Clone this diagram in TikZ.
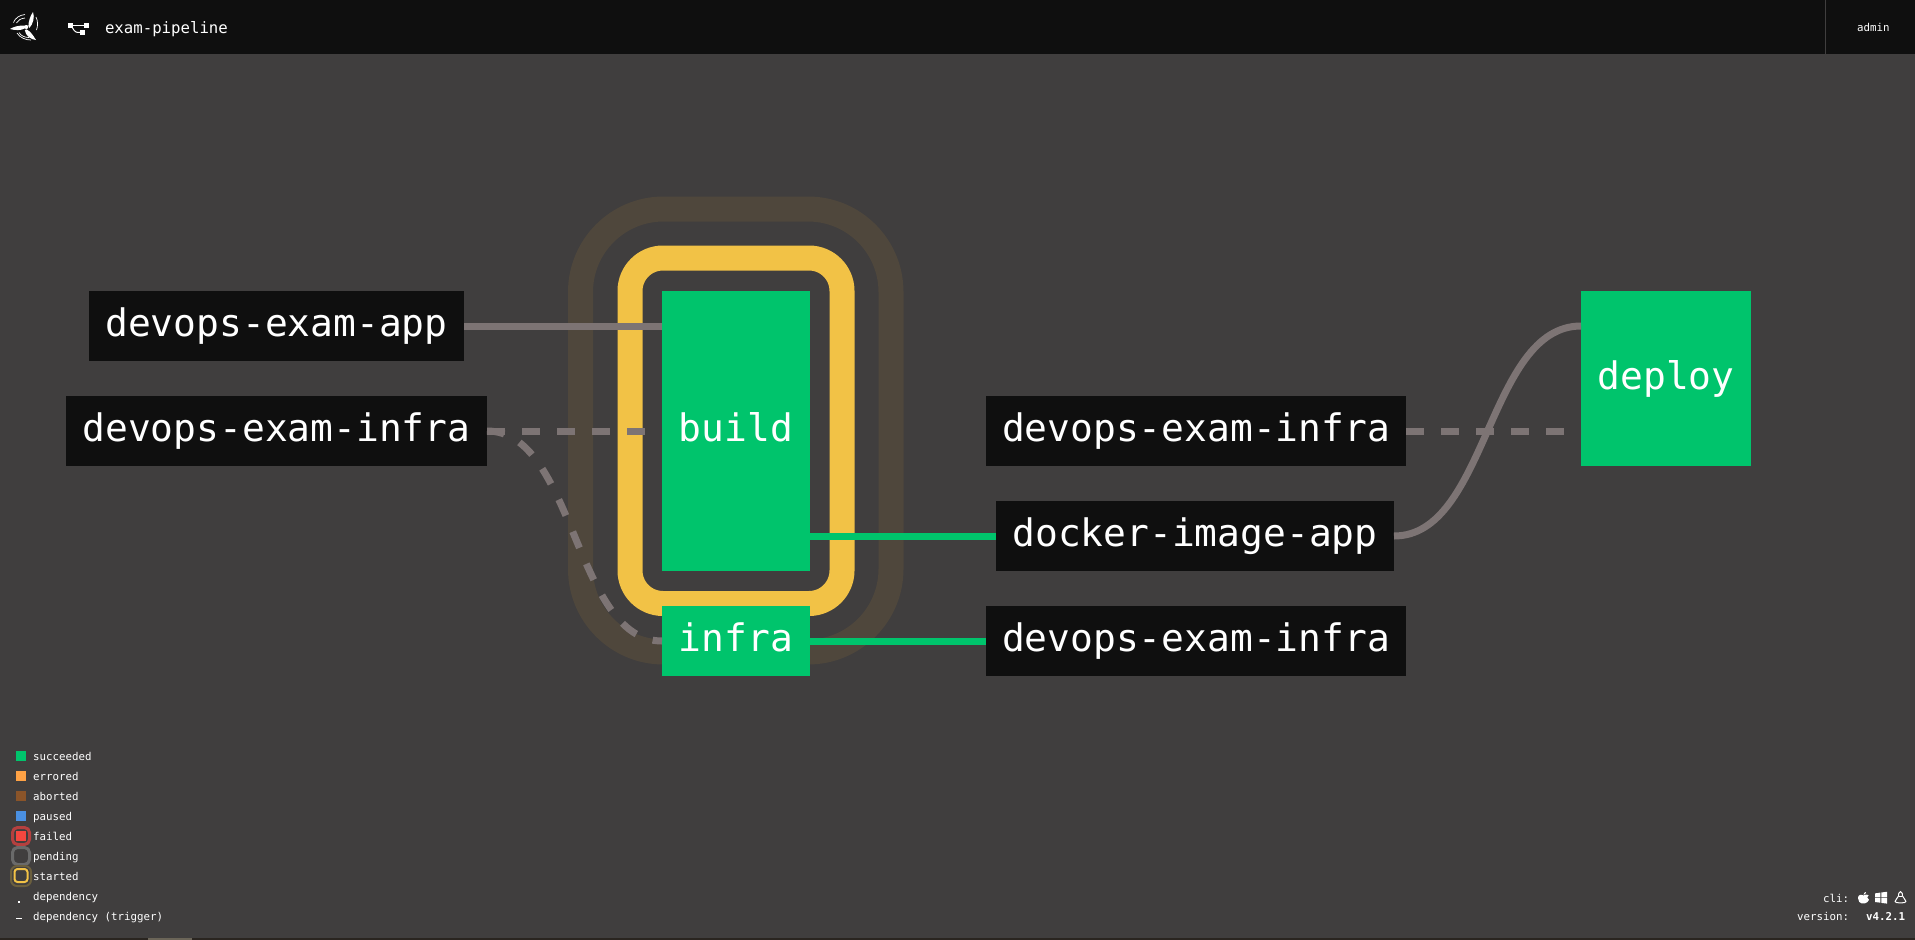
\documentclass[tikz,border=0pt]{standalone}
\usepackage{fontspec}
\setmonofont{DejaVu Sans Mono}
\definecolor{bgc}{HTML}{403E3E}
\definecolor{barc}{HTML}{0F0F0F}
\definecolor{greenc}{HTML}{00C46C}
\definecolor{yellowc}{HTML}{F2C246}
\definecolor{haloc}{HTML}{4F473C}
\definecolor{edgec}{HTML}{7D7474}
\definecolor{stripc}{HTML}{2A2520}
\definecolor{patchc}{HTML}{6B6558}
\definecolor{c1}{HTML}{FFA245}
\definecolor{c2}{HTML}{8A5429}
\definecolor{c3}{HTML}{4A90E2}
\definecolor{c4}{HTML}{F5473F}
\definecolor{c5}{HTML}{B5403F}
\definecolor{c6}{HTML}{6A6A6A}
\definecolor{c7}{HTML}{6B5F3E}
\tikzset{
  res/.style={fill=barc,text=white,inner sep=0pt,outer sep=0pt,minimum height=70pt,font=\fontsize{37.9pt}{40pt}\selectfont\ttfamily,text height=28pt,text depth=6.4pt,anchor=center},
  jobbox/.style={res,fill=greenc},
  edgeline/.style={draw=edgec,line width=7pt},
  edgedash/.style={edgeline,dash pattern=on 17.5pt off 17.5pt},
  greenline/.style={draw=greenc,line width=7pt},
  small/.style={text=white,inner sep=0pt,outer sep=0pt,anchor=base west,font=\fontsize{10.8pt}{12pt}\selectfont\ttfamily}
}
\begin{document}
\begin{tikzpicture}[x=1pt,y=-1pt]
\useasboundingbox (0,0) rectangle (1915,940);
\fill[bgc] (0,0) rectangle (1915,940);
% bars
\fill[barc] (0,0) rectangle (1915,53.5);
\draw[color=bgc,line width=1pt] (1825.5,0) -- (1825.5,53.5);
\fill[stripc] (0,937.5) rectangle (1915,940);
\fill[patchc] (148,937.5) rectangle (192,940);
% logo
\fill[white] (26.3,27) circle (2);
\fill[white] (25.5,25.6) .. controls (19,25) and (13,27) .. (10,29) .. controls (15,30.5) and (21,30.5) .. (24.6,28.6) -- cycle;
\fill[white] (28.4,26) .. controls (28.5,22) and (30,16) .. (33,12) .. controls (35,17) and (33,24) .. (29.4,28) -- cycle;
\fill[white] (26.5,29.4) .. controls (30,31) and (33,35) .. (36,40) .. controls (31,39.5) and (25.5,36) .. (24.8,30) -- cycle;
\draw[white,line width=.7pt] (13.5,22.5) .. controls (15,18) and (20,15) .. (25,14.5);
\draw[white,line width=.7pt] (16.5,23) .. controls (18,20) and (21,18.5) .. (25,18);
\draw[white,line width=.7pt] (36,17) .. controls (38,21) and (38,26) .. (36.5,30);
\draw[white,line width=.7pt] (17,33) .. controls (20,38) and (26,40) .. (31,40);
\draw[white,line width=.7pt] (19,32.5) .. controls (21,36) and (25,37.5) .. (29,37.5);
% pipeline icon
\fill[white] (68.2,22.5) rectangle (73.2,27.5);
\fill[white] (83.5,22.5) rectangle (88.5,27.5);
\fill[white] (79.8,30) rectangle (84.8,35);
\draw[white,line width=1pt] (73,25) -- (84,25);
\draw[white,line width=1pt] (72,27) .. controls (75,32.5) and (76,32.5) .. (80,32.5);
\node[small,font=\fontsize{15.7pt}{18pt}\selectfont\ttfamily] (title) at (105,33.2) {exam-pipeline};
\node[small] (user) at (1857,31.3) {admin};
% halo and ring
\draw[haloc,line width=25pt,rounded corners=83pt] (580.5,209) rectangle (891,652);
\draw[yellowc,line width=25pt,rounded corners=33pt] (630,258) rectangle (842,603.5);
% nodes
\node[res,minimum width=375pt] (app) at (276.5,326) {devops-exam-app};
\node[res,minimum width=421pt] (infraL) at (276.5,431) {devops-exam-infra};
\node[jobbox,minimum width=148pt,minimum height=280pt] (build) at (736,431) {build};
\node[jobbox,minimum width=148pt] (infra) at (736,641) {infra};
\node[res,minimum width=420pt] (infraR) at (1196,431) {devops-exam-infra};
\node[res,minimum width=398pt] (docker) at (1195,536) {docker-image-app};
\node[res,minimum width=420pt] (infraB) at (1196,641) {devops-exam-infra};
\node[jobbox,minimum width=170pt,minimum height=175pt] (deploy) at (1666,378.5) {deploy};
% connectors
\draw[edgeline] (app.east) -- (app.east -| build.west);
\draw[edgedash] (infraL.east) -- (infraL.east -| build.west);
\draw[edgedash] (infraL.east) .. controls +(87.5,0) and +(-87.5,0) .. (infra.west);
\draw[edgedash] (infraR.east) -- (infraR.east -| deploy.west);
\draw[edgeline] (docker.east) .. controls +(93.5,0) and +(-93.5,0) .. (deploy.west |- app.east);
\draw[greenline] (docker.west -| build.east) -- (docker.west);
\draw[greenline] (infra.east) -- (infraB.west);
% legend
\fill[greenc] (16,751) rectangle (26,761);
\fill[c1] (16,771) rectangle (26,781);
\fill[c2] (16,791) rectangle (26,801);
\fill[c3] (16,811) rectangle (26,821);
\fill[c4] (16,831) rectangle (26,841);
\draw[c5,line width=3pt,rounded corners=5pt] (12.5,827.5) rectangle (29.5,844.5);
\draw[c6,line width=3pt,rounded corners=5pt] (12.5,847.5) rectangle (29.5,864.5);
\draw[c7,line width=2pt,rounded corners=6pt] (11,866) rectangle (31,886);
\draw[yellowc,line width=2pt,rounded corners=3pt] (14.5,869) rectangle (27.5,882);
\fill[white] (18,901) rectangle (20,902.5);
\fill[white] (16,917.5) rectangle (22,918.7);
\node[small] (l1) at (33,760.6) {succeeded};
\node[small] (l2) at (33,780.6) {errored};
\node[small] (l3) at (33,800.6) {aborted};
\node[small] (l4) at (33,820.6) {paused};
\node[small] (l5) at (33,840.6) {failed};
\node[small] (l6) at (33,860.6) {pending};
\node[small] (l7) at (33,880.6) {started};
\node[small] (l8) at (33,900.6) {dependency};
\node[small] (l9) at (33,920.6) {dependency (trigger)};
% footer
\node[small] (cli) at (1823,902.7) {cli:};
\node[small] (ver) at (1797,920.3) {version:};
\node[small,font=\fontsize{10.8pt}{12pt}\selectfont\ttfamily\bfseries] (vnum) at (1866,920.3) {v4.2.1};
% apple
\fill[white] (1863.5,895.5) .. controls (1861,893.8) and (1858,895) .. (1858,898) .. controls (1858,901) and (1860,903.5) .. (1861.5,903.3) .. controls (1862.5,903) and (1864,903) .. (1865,903.3) .. controls (1866.5,903.5) and (1868,901.5) .. (1869,899.8) .. controls (1867,899) and (1866.5,896) .. (1868.6,895.2) .. controls (1867,894) and (1865,894.6) .. cycle;
\fill[white] (1863.5,894.8) .. controls (1863.5,893) and (1865,892) .. (1866,892) .. controls (1866,893.5) and (1865,894.6) .. cycle;
% windows
\fill[white] (1875,893.4) -- (1880.4,892.6) -- (1880.4,897.3) -- (1875,897.3) -- cycle;
\fill[white] (1881.3,892.5) -- (1887,891.8) -- (1887,897.3) -- (1881.3,897.3) -- cycle;
\fill[white] (1875,898.2) -- (1880.4,898.2) -- (1880.4,902.7) -- (1875,902) -- cycle;
\fill[white] (1881.3,898.2) -- (1887,898.2) -- (1887,903.6) -- (1881.3,902.9) -- cycle;
% linux
\draw[white,line width=1pt,line join=round] (1900.5,891.5) .. controls (1898.5,891.5) and (1898.5,895) .. (1898.5,896) .. controls (1898,898) and (1895.5,899) .. (1895,901.5) .. controls (1895,903) and (1898,902.5) .. (1899,902.8) -- (1902,902.8) .. controls (1903,902.5) and (1906,903) .. (1906,901.5) .. controls (1905.5,899) and (1903,898) .. (1902.5,896) .. controls (1902.5,895) and (1902.5,891.5) .. (1900.5,891.5) -- cycle;
\fill[white] (1899.2,895.5) rectangle (1901.8,896.6);
\end{tikzpicture}
\end{document}
